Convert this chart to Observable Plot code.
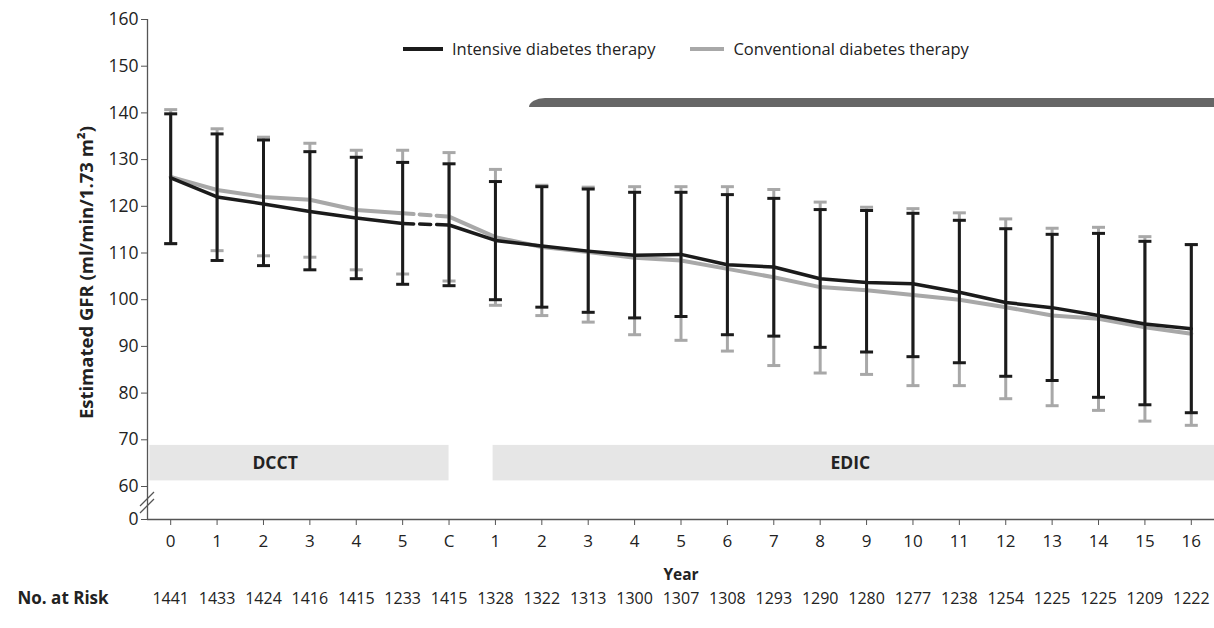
<!DOCTYPE html>
<html><head><meta charset="utf-8">
<script src="https://cdn.jsdelivr.net/npm/d3@7"></script>
<script src="https://cdn.jsdelivr.net/npm/@observablehq/plot@0.6"></script>
<style>
body{margin:0;background:#fff;}
#wrap{position:relative;width:1214px;height:628px;overflow:hidden;font-family:"Open Sans",sans-serif;color:#222;}
#legend{position:absolute;left:403px;top:37px;display:flex;align-items:center;font-size:16.5px;color:#222;white-space:nowrap;}
#legend .sw{display:inline-block;height:4px;margin-right:9px;}
#legend .item{display:flex;align-items:center;margin-right:35px;}
#bar{position:absolute;left:529px;top:98px;width:700px;height:9px;background:#666;border-top-left-radius:16px 9px;}
</style></head><body><div id="wrap"></div>
<script>
const yearLabels = ["0","1","2","3","4","5","C","1","2","3","4","5","6","7","8","9","10","11","12","13","14","15","16"];
const intensiveMean = [126.1,122.0,120.5,118.9,117.5,116.3,116.0,112.7,111.5,110.4,109.5,109.7,107.5,107.0,104.5,103.7,103.4,101.6,99.4,98.3,96.6,94.8,93.8];
const intensiveHigh = [139.8,135.5,134.2,131.7,130.5,129.4,129.1,125.3,124.2,123.7,123.0,123.0,122.5,121.7,119.3,119.1,118.5,117.0,115.2,114.0,114.2,112.5,111.8];
const intensiveLow  = [112.0,108.4,107.3,106.4,104.5,103.3,103.0,100.0,98.4,97.3,96.1,96.4,92.5,92.2,89.8,88.8,87.8,86.5,83.6,82.7,79.1,77.5,75.8];
const conventionalMean = [126.3,123.5,122.0,121.4,119.2,118.5,117.8,113.4,111.3,110.2,109.0,108.4,106.6,104.8,102.7,102.0,101.0,100.0,98.4,96.6,95.9,94.1,92.7];
const conventionalHigh = [140.7,136.6,134.8,133.5,132.0,132.0,131.5,127.9,124.5,124.1,124.2,124.2,124.2,123.6,120.9,119.8,119.5,118.6,117.3,115.3,115.5,113.5,111.8];
const conventionalLow  = [112.0,110.5,109.4,109.1,106.4,105.5,104.0,98.8,96.6,95.2,92.5,91.3,89.0,85.9,84.3,84.0,81.6,81.6,78.8,77.3,76.3,74.0,73.1];
const atRisk = [1441,1433,1424,1416,1415,1233,1415,1328,1322,1313,1300,1307,1308,1293,1290,1280,1277,1238,1254,1225,1225,1209,1222];
const phases = [
  {name:"DCCT", start:-0.45, end:6, label:2.25},
  {name:"EDIC", start:6.95, end:22.5, label:14.65}
];
const yTicks = [0,60,70,80,90,100,110,120,130,140,150,160];
const seriesNames = ["Intensive diabetes therapy","Conventional diabetes therapy"];
const colors = {int:"#1b1b1b", conv:"#a8a8a8"};

const rows = (mean, low, high) => mean.map((m,i)=>({i, mean:m, low:low[i], high:high[i]}));
const intRows = rows(intensiveMean, intensiveLow, intensiveHigh);
const convRows = rows(conventionalMean, conventionalLow, conventionalHigh);

const cap = {draw(ctx, size){const w = Math.sqrt(size/Math.PI); ctx.moveTo(-w,0); ctx.lineTo(w,0);}};

function seriesMarks(data, color, lw, bw){
  return [
    Plot.ruleX(data, {x:"i", y1:"low", y2:"high", stroke:color, strokeWidth:bw}),
    Plot.dot(data, {x:"i", y:"high", symbol:cap, r:6.5, stroke:color, strokeWidth:bw, fill:"none"}),
    Plot.dot(data, {x:"i", y:"low", symbol:cap, r:6.5, stroke:color, strokeWidth:bw, fill:"none"}),
    Plot.lineY(data.filter(d=>d.i<=5), {x:"i", y:"mean", stroke:color, strokeWidth:lw}),
    Plot.lineY(data.filter(d=>d.i>=5 && d.i<=6), {x:"i", y:"mean", stroke:color, strokeWidth:lw, strokeDasharray:"11,6"}),
    Plot.lineY(data.filter(d=>d.i>=6), {x:"i", y:"mean", stroke:color, strokeWidth:lw})
  ];
}

const chart = Plot.plot({
  width:1214, height:628,
  marginTop:19, marginBottom:109, marginLeft:147, marginRight:0,
  style:{fontFamily:"'Open Sans', sans-serif", color:"#222", background:"#fff"},
  x:{type:"linear", domain:[-0.5,22.5]},
  y:{type:"linear", domain:[0,60,160], range:[519,486,19]},
  marks:[
    Plot.rectY(phases, {x1:"start", x2:"end", y1:61.2, y2:68.8, fill:"#e6e6e6"}),
    Plot.text(phases, {x:"label", y:65, text:"name", fontWeight:"bold", fontSize:17.5, fill:"#222"}),
    ...seriesMarks(convRows, colors.conv, 4, 3),
    ...seriesMarks(intRows, colors.int, 3.5, 3),
    Plot.ruleY([0], {stroke:"#555", strokeWidth:1.3}),
    Plot.ruleX([-0.5], {y1:0, y2:160, stroke:"#555", strokeWidth:1.3}),
    Plot.axisY({ticks:yTicks, tickSize:6, tickPadding:3, fontSize:17.5, stroke:"#555", label:null}),
    Plot.axisX({ticks:d3.range(23), tickFormat:i=>yearLabels[i], tickSize:6, tickPadding:9, fontSize:17, stroke:"#555", label:null}),
    Plot.text(["Estimated GFR (ml/min/1.73 m²)"], {frameAnchor:"left", textAnchor:"middle", lineAnchor:"middle", rotate:-90, dx:-60, dy:3, fontWeight:"bold", fontSize:18.5, fill:"#222"}),
    Plot.text(["Year"], {frameAnchor:"bottom", lineAnchor:"middle", dy:56, fontWeight:"bold", fontSize:15.5, fill:"#222"}),
    Plot.text(atRisk, {x:(d,i)=>i, frameAnchor:"bottom", lineAnchor:"middle", dy:79, text:d=>String(d), fontSize:16, fill:"#222"}),
    Plot.text(["No. at Risk"], {frameAnchor:"bottom-left", lineAnchor:"middle", dx:-130, dy:79, textAnchor:"start", fontWeight:"bold", fontSize:17, fill:"#222"})
  ]
});

// axis break marks
const ys = chart.scale("y");
const yb = (ys.apply(60) + ys.apply(0)) / 2;
const svg = d3.select(chart);
[-3.5, 3.5].forEach(o => {
  svg.append("line").attr("x1",140).attr("y1",yb+o+7).attr("x2",154).attr("y2",yb+o-7)
    .attr("stroke","#555").attr("stroke-width",1.3);
});

const wrap = document.getElementById("wrap");
wrap.appendChild(chart);
chart.style.position = "absolute"; chart.style.left = "0"; chart.style.top = "0";
const bar = document.createElement("div"); bar.id = "bar"; wrap.appendChild(bar);
const legend = document.createElement("div"); legend.id = "legend";
legend.innerHTML = seriesNames.map((n,k)=>`<span class="item"><span class="sw" style="background:${k?colors.conv:colors.int};width:${k?34:40}px"></span>${n}</span>`).join("");
wrap.appendChild(legend);
</script></body></html>
